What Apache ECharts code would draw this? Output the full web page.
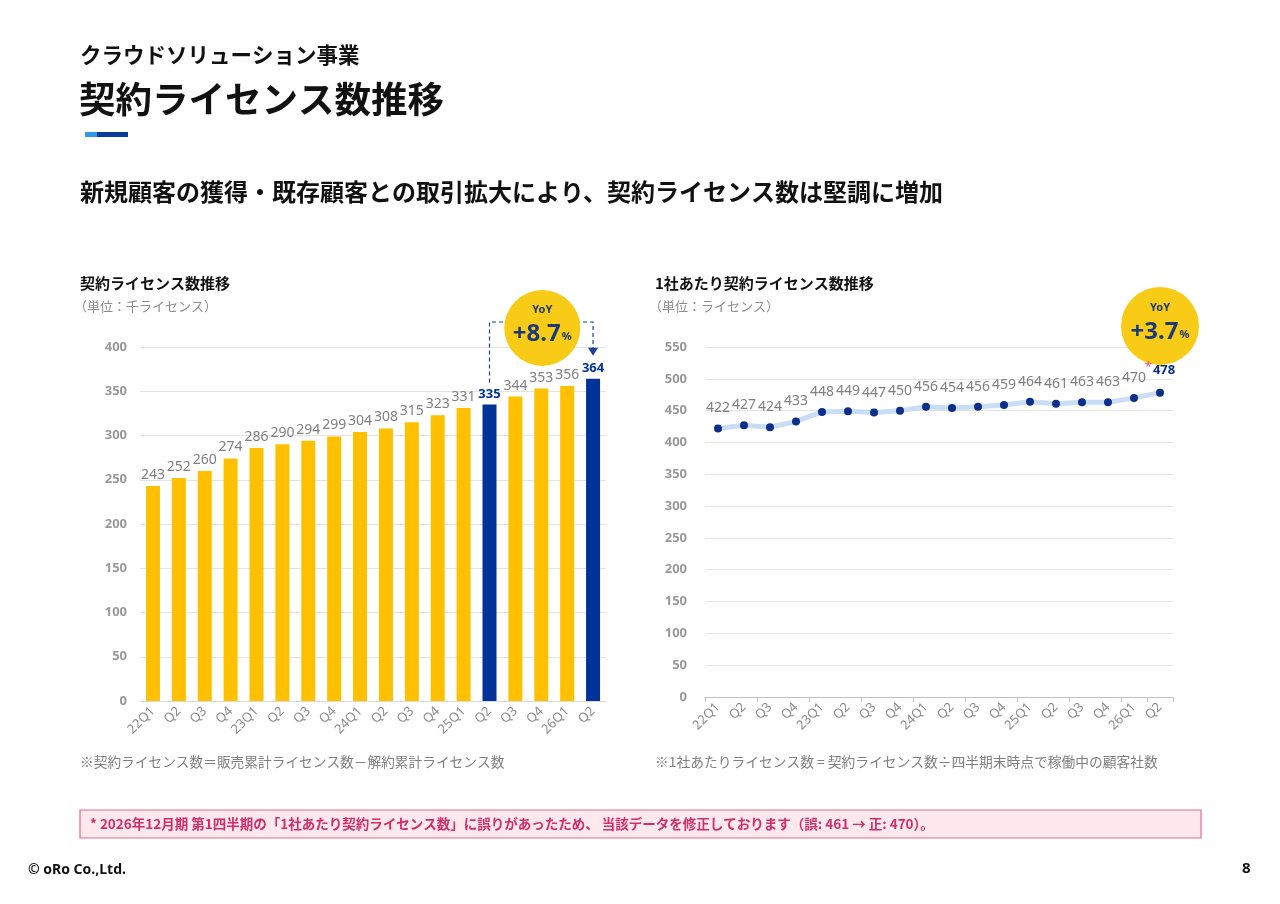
<!DOCTYPE html>
<html><head><meta charset="utf-8">
<script src="https://cdn.jsdelivr.net/npm/echarts@6/dist/echarts.min.js"></script>
<style>html,body{margin:0;padding:0;background:#fff}#c{width:1280px;height:904px}</style>
</head><body><div id="c"></div>
<script>
const categories = ['22Q1','Q2','Q3','Q4','23Q1','Q2','Q3','Q4','24Q1','Q2','Q3','Q4','25Q1','Q2','Q3','Q4','26Q1','Q2'];
const licenses = [243,252,260,274,286,290,294,299,304,308,315,323,331,335,344,353,356,364];
const perCompany = [422,427,424,433,448,449,447,450,456,454,456,459,464,461,463,463,470,478];
const highlightIdx = [13,17];
const leftTicks = {min:0, max:400, interval:50};
const rightTicks = {min:0, max:550, interval:50};
const yoyLeft = '+8.7';
const yoyRight = '+3.7';

const FONT = '"Noto Sans CJK JP","Noto Sans",sans-serif';
const YELLOW = '#FFC000';
const BLUE = '#003399';
const DOT = '#0B2F8A';
const GRAY = '#7f7f7f';

const chart = echarts.init(document.getElementById('c'), null, {renderer:'canvas'});

const barData = licenses.map((v,i)=> highlightIdx.includes(i) ? {
  value:v, itemStyle:{color:BLUE},
  label:{color:BLUE, fontWeight:'bold', fontSize:13, fontFamily:'"Noto Sans",sans-serif'}
} : v);

const lineData = perCompany.map((v,i)=> i===perCompany.length-1 ? {
  value:v,
  label:{formatter:'{a|*}{b|{c}}', rich:{a:{color:'#E0457B',fontSize:13,padding:[0,1,6,0]}, b:{color:DOT,fontWeight:'bold',fontSize:13,fontFamily:'"Noto Sans",sans-serif'}}}
} : v);

const axisLabelStyle = {color:'#999', fontWeight:'bold', fontSize:13, fontFamily:'"Noto Sans",sans-serif'};
const xLabelStyle = {color:'#8c8c8c', fontSize:13, rotate:45, interval:0, fontFamily:'"Noto Sans",sans-serif', margin:8};

function T(text, left, top, size, weight, color){
  return {text:text, left:left, top:top, padding:0, textStyle:{fontSize:size, fontWeight:weight, color:color, fontFamily:FONT}};
}

const option = {
  animation:false,
  textStyle:{fontFamily:FONT},
  title:[
    T('クラウドソリューション事業', 80, 44, 21.5, 'bold', '#111'),
    T('契約ライセンス数推移', 79, 81, 36.5, 'bold', '#111'),
    T('新規顧客の獲得・既存顧客との取引拡大により、契約ライセンス数は堅調に増加', 80, 180, 24, 'bold', '#111'),
    T('契約ライセンス数推移', 80, 276, 15, 'bold', '#111'),
    T('（単位：千ライセンス）', 74, 300, 13, 'normal', '#8c8c8c'),
    T('1社あたり契約ライセンス数推移', 655, 276, 15, 'bold', '#111'),
    T('（単位：ライセンス）', 649, 300, 13, 'normal', '#8c8c8c'),
    T('※契約ライセンス数＝販売累計ライセンス数－解約累計ライセンス数', 80, 755, 13.7, 'normal', '#7f7f7f'),
    T('※1社あたりライセンス数 = 契約ライセンス数÷四半期末時点で稼働中の顧客社数', 655, 755, 13.75, 'normal', '#7f7f7f'),
    {text:'8', left:1242, top:861, padding:0, textStyle:{fontSize:15, fontWeight:'bold', color:'#111', fontFamily:'"Noto Sans",sans-serif'}}
  ],
  grid:[
    {left:140, right:674, top:347, bottom:203},
    {left:705, right:107, top:347, bottom:207}
  ],
  xAxis:[
    {type:'category', gridIndex:0, data:categories, axisLine:{lineStyle:{color:'#d9d9d9'}}, axisTick:{show:false}, axisLabel:xLabelStyle},
    {type:'category', gridIndex:1, data:categories, axisLine:{lineStyle:{color:'#bfbfbf'}}, axisTick:{show:true, interval:1, length:5, lineStyle:{color:'#bfbfbf'}}, axisLabel:xLabelStyle}
  ],
  yAxis:[
    {type:'value', gridIndex:0, min:leftTicks.min, max:leftTicks.max, interval:leftTicks.interval, axisLine:{show:false}, axisTick:{show:false}, splitLine:{lineStyle:{color:'#e3e3e3'}}, axisLabel:Object.assign({margin:13}, axisLabelStyle)},
    {type:'value', gridIndex:1, min:rightTicks.min, max:rightTicks.max, interval:rightTicks.interval, axisLine:{show:false}, axisTick:{show:false}, splitLine:{lineStyle:{color:'#e3e3e3'}}, axisLabel:Object.assign({margin:18}, axisLabelStyle)}
  ],
  series:[
    {type:'bar', xAxisIndex:0, yAxisIndex:0, data:barData, barWidth:14, itemStyle:{color:YELLOW},
     label:{show:true, position:'top', distance:4, color:GRAY, fontSize:14, fontFamily:'"Noto Sans",sans-serif'}},
    {type:'line', xAxisIndex:1, yAxisIndex:1, data:lineData, symbol:'circle', symbolSize:8,
     lineStyle:{color:'#c9def5', width:5}, itemStyle:{color:DOT},
     label:{show:true, position:'top', distance:9, color:GRAY, fontSize:14, fontFamily:'"Noto Sans",sans-serif'}}
  ]
};
chart.setOption(option);

function px(gridIdx, i, v){ return chart.convertToPixel({xAxisIndex:gridIdx, yAxisIndex:gridIdx}, [i, v]); }

const pA = px(0, 13, licenses[13]);
const pB = px(0, 17, licenses[17]);
const cxL = (pA[0]+pB[0])/2 + 1;
const topY = 322;
const pR = px(1, 17, perCompany[17]);

const dash = {stroke:'#1f3f8f', lineWidth:1.2, lineDash:[4,3]};
const graphic = [
  {type:'rect', shape:{x:85, y:132, width:12, height:5}, style:{fill:'#2b9be8'}},
  {type:'rect', shape:{x:97, y:132, width:31, height:5}, style:{fill:'#0a3a9a'}},
  {type:'polyline', shape:{points:[[pA[0], pA[1]-22],[pA[0], topY],[pB[0], topY],[pB[0], pB[1]-30]]}, style:Object.assign({fill:null}, dash)},
  {type:'polygon', shape:{points:[[pB[0]-5, pB[1]-31],[pB[0]+5, pB[1]-31],[pB[0], pB[1]-23]]}, style:{fill:'#1f3f8f'}},
  {type:'circle', shape:{cx:cxL, cy:328, r:38}, style:{fill:'#F7CB16'}},
  {type:'text', x:cxL, y:310, style:{text:'YoY', fill:'#1d3a78', font:'bold 11px "Noto Sans",sans-serif', align:'center', verticalAlign:'middle'}},
  {type:'text', x:cxL, y:334, style:{text:'{a|'+yoyLeft+'}{b|%}', align:'center', verticalAlign:'middle', rich:{a:{fill:'#1d3a78', font:'bold 24px "Noto Sans",sans-serif'}, b:{fill:'#1d3a78', font:'bold 11px "Noto Sans",sans-serif', padding:[6,0,0,1]}}}},
  {type:'polygon', shape:{points:[[pR[0]-9, 355],[pR[0]+9, 355],[pR[0], 367]]}, style:{fill:'#F7CB16'}},
  {type:'circle', shape:{cx:pR[0], cy:326, r:39}, style:{fill:'#F7CB16'}},
  {type:'text', x:pR[0], y:308, style:{text:'YoY', fill:'#1d3a78', font:'bold 11px "Noto Sans",sans-serif', align:'center', verticalAlign:'middle'}},
  {type:'text', x:pR[0], y:332, style:{text:'{a|'+yoyRight+'}{b|%}', align:'center', verticalAlign:'middle', rich:{a:{fill:'#1d3a78', font:'bold 24px "Noto Sans",sans-serif'}, b:{fill:'#1d3a78', font:'bold 11px "Noto Sans",sans-serif', padding:[6,0,0,1]}}}},
  {type:'rect', shape:{x:80, y:810, width:1121, height:28}, style:{fill:'#FDE8EE', stroke:'#E06A92', lineWidth:1.2}},
  {type:'text', x:90, y:824, style:{text:'* 2026年12月期 第1四半期の「1社あたり契約ライセンス数」に誤りがあったため、 当該データを修正しております（誤: 461 → 正: 470）。', fill:'#D12D68', font:'bold 13.5px "Noto Sans CJK JP",sans-serif', verticalAlign:'middle'}},
  {type:'text', x:28, y:870, style:{text:'© oRo Co.,Ltd.', fill:'#111', font:'bold 14px "Noto Sans",sans-serif', verticalAlign:'middle'}}
];
chart.setOption({graphic:graphic});
</script></body></html>
